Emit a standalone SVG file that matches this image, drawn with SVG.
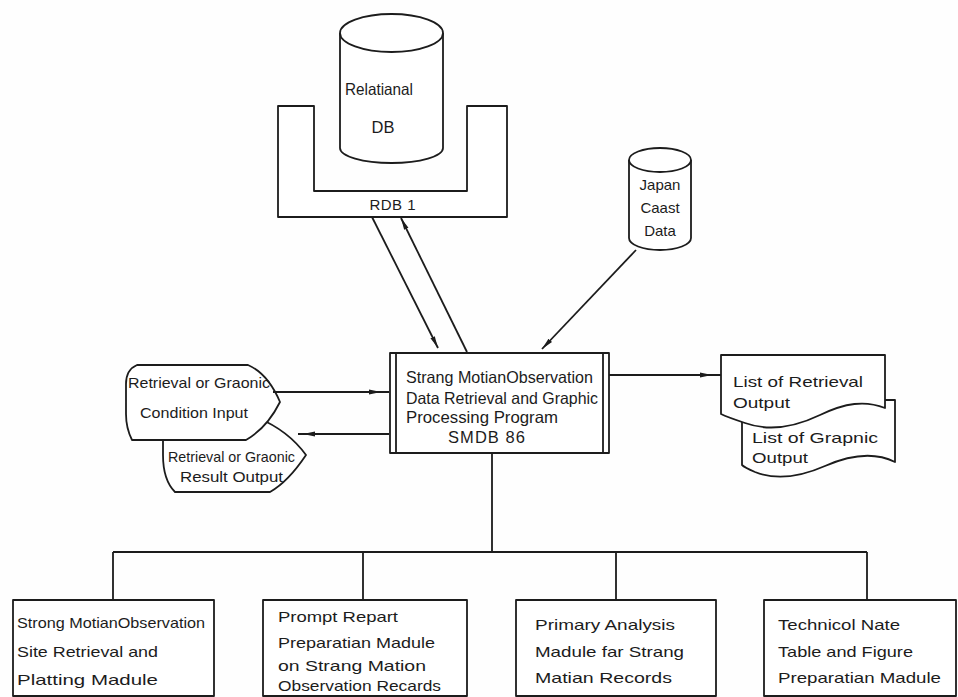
<svg xmlns="http://www.w3.org/2000/svg" width="958" height="697" viewBox="0 0 958 697">
  <style>
    .ln { fill: none; stroke: #1c1c1c; stroke-width: 1.8; }
    .sh { fill: #ffffff; stroke: #1c1c1c; stroke-width: 1.8; stroke-linejoin: round; }
    .tx { font-family: "Liberation Sans", "DejaVu Sans", sans-serif; fill: #1c1c1c; font-size: 15px; }
    .tc { font-size: 16.5px; }
  </style>
  <defs>
    <marker id="ah" viewBox="0 0 12 6" refX="12" refY="3" markerWidth="12" markerHeight="6" markerUnits="userSpaceOnUse" orient="auto">
      <path d="M0,0.6 L12,3 L0,5.4 Z" fill="#1c1c1c"/>
    </marker>
  </defs>
  <rect x="0" y="0" width="958" height="697" fill="#fefefe"/>

  <!-- relational database inside its RDB 1 holder -->
  <g id="rdb1">
    <path class="sh" d="M278,106 H314 V191 H467 V106 H507 V217 H278 Z"/>
    <text class="tx" x="392.5" y="210" text-anchor="middle" textLength="46" lengthAdjust="spacing">RDB 1</text>
  </g>
  <g id="relational-db">
    <path class="sh" d="M340,33 V148 A51.5,15 0 0 0 443,148 V33"/>
    <ellipse class="sh" cx="391.5" cy="33" rx="51.5" ry="19"/>
    <text class="tx tc" x="345" y="95" textLength="68" lengthAdjust="spacingAndGlyphs">Relatianal</text>
    <text class="tx tc" x="383" y="133" text-anchor="middle">DB</text>
  </g>

  <!-- external coast data store -->
  <g id="japan-coast-data">
    <path class="sh" d="M629,160 V238 A31,12 0 0 0 691,238 V160"/>
    <ellipse class="sh" cx="660" cy="160" rx="31" ry="12"/>
    <text class="tx" x="660" y="190" text-anchor="middle" font-size="14">Japan</text>
    <text class="tx" x="660" y="213" text-anchor="middle" font-size="14">Caast</text>
    <text class="tx" x="660" y="236" text-anchor="middle" font-size="14">Data</text>
  </g>

  <!-- main processing program -->
  <g id="smdb86">
    <rect class="sh" x="390" y="353" width="219" height="100"/>
    <path class="ln" d="M396,353 V453 M603,353 V453"/>
    <text class="tx tc" x="406" y="383" textLength="187" lengthAdjust="spacingAndGlyphs">Strang MotianObservation</text>
    <text class="tx tc" x="406" y="404" textLength="192" lengthAdjust="spacingAndGlyphs">Data Retrieval and Graphic</text>
    <text class="tx tc" x="406" y="423" textLength="152" lengthAdjust="spacingAndGlyphs">Processing Program</text>
    <text class="tx tc" x="448" y="443" textLength="77" lengthAdjust="spacing">SMDB 86</text>
  </g>

  <!-- display terminals -->
  <g id="result-output">
    <path class="sh" d="M163,418 H258 C282,428 298,444 306,455 C296,470 284,484 270,492 H175 C167,484 163,470 163,455 Z"/>
    <text class="tx" x="168" y="462" font-size="14" textLength="127" lengthAdjust="spacingAndGlyphs">Retrieval or Graonic</text>
    <text class="tx" x="180" y="482" font-size="14" textLength="103" lengthAdjust="spacingAndGlyphs">Result Output</text>
  </g>
  <g id="condition-input">
    <path class="sh" d="M137,365 H248 C264,372 274,388 280,402 C272,418 260,432 246,440 H132 C128,432 126,424 126,414 V384 C126,374 130,368 137,365 Z"/>
    <text class="tx" x="128" y="388" font-size="14" textLength="142" lengthAdjust="spacingAndGlyphs">Retrieval or Graonic</text>
    <text class="tx" x="140" y="418" font-size="14" textLength="108" lengthAdjust="spacingAndGlyphs">Condition Input</text>
  </g>

  <!-- printed listings -->
  <g id="list-graphic">
    <path class="sh" d="M742,400 H895 V462 C875,452 850,455 825,466 C800,477 775,480 755,472 C748,469 744,467 742,465 Z"/>
    <text class="tx" x="752" y="443" textLength="126" lengthAdjust="spacingAndGlyphs">List of Grapnic</text>
    <text class="tx" x="752" y="463" textLength="56" lengthAdjust="spacingAndGlyphs">Output</text>
  </g>
  <g id="list-retrieval">
    <path class="sh" d="M721,355 H885 V408 C865,400 845,403 820,415 C795,427 770,432 745,423 C733,419 725,416 721,414 Z"/>
    <text class="tx" x="733" y="387" textLength="130" lengthAdjust="spacingAndGlyphs">List of Retrieval</text>
    <text class="tx" x="733" y="408" textLength="57" lengthAdjust="spacingAndGlyphs">Output</text>
  </g>

  <!-- modules -->
  <g id="module-site">
    <rect class="sh" x="13" y="600" width="201" height="96"/>
    <text class="tx" x="17" y="628" textLength="188" lengthAdjust="spacingAndGlyphs">Strong MotianObservation</text>
    <text class="tx" x="17" y="657" textLength="141" lengthAdjust="spacingAndGlyphs">Site Retrieval and</text>
    <text class="tx" x="17" y="685" textLength="141" lengthAdjust="spacingAndGlyphs">Platting Madule</text>
  </g>
  <g id="module-prompt">
    <rect class="sh" x="263" y="600" width="204" height="96"/>
    <text class="tx" x="278" y="622" textLength="120" lengthAdjust="spacingAndGlyphs">Prompt Repart</text>
    <text class="tx" x="278" y="648" textLength="157" lengthAdjust="spacingAndGlyphs">Preparatian Madule</text>
    <text class="tx" x="278" y="671" textLength="148" lengthAdjust="spacingAndGlyphs">on Strang Mation</text>
    <text class="tx" x="278" y="691" textLength="163" lengthAdjust="spacingAndGlyphs">Observation Recards</text>
  </g>
  <g id="module-analysis">
    <rect class="sh" x="516" y="600" width="200" height="96"/>
    <text class="tx" x="535" y="630" textLength="140" lengthAdjust="spacingAndGlyphs">Primary Analysis</text>
    <text class="tx" x="535" y="657" textLength="149" lengthAdjust="spacingAndGlyphs">Madule far Strang</text>
    <text class="tx" x="535" y="683" textLength="137" lengthAdjust="spacingAndGlyphs">Matian Records</text>
  </g>
  <g id="module-technical">
    <rect class="sh" x="764" y="600" width="192" height="96"/>
    <text class="tx" x="778" y="630" textLength="122" lengthAdjust="spacingAndGlyphs">Technicol Nate</text>
    <text class="tx" x="778" y="657" textLength="135" lengthAdjust="spacingAndGlyphs">Table and Figure</text>
    <text class="tx" x="778" y="683" textLength="163" lengthAdjust="spacingAndGlyphs">Preparatian  Madule</text>
  </g>

  <!-- connectors -->
  <g id="connectors">
    <path class="ln" d="M372,217 L438,348" marker-end="url(#ah)"/>
    <path class="ln" d="M467,352 L401,218" marker-end="url(#ah)"/>
    <path class="ln" d="M636,250 L542,349" marker-end="url(#ah)"/>
    <path class="ln" d="M273,392 H389"/>
    <path class="ln" d="M273,392 H381" marker-end="url(#ah)"/>
    <path class="ln" d="M298,434 H389"/>
    <path class="ln" d="M389,434 H303" marker-end="url(#ah)"/>
    <path class="ln" d="M609,375 H721"/>
    <path class="ln" d="M609,375 H712" marker-end="url(#ah)"/>
    <path class="ln" d="M492,453 V552 M113,552 H867 M113,552 V600 M363,552 V600 M616,552 V600 M867,552 V600"/>
  </g>
</svg>
